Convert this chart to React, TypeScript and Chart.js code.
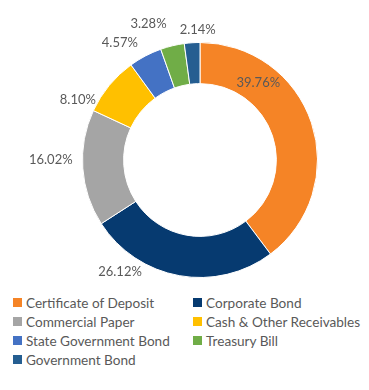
import React, { useEffect, useRef } from "react";
import { Chart, registerables } from "chart.js";

Chart.register(...registerables);

const categories = [
  "Certificate of Deposit",
  "Corporate Bond",
  "Commercial Paper",
  "Cash & Other Receivables",
  "State Government Bond",
  "Treasury Bill",
  "Government Bond",
];
const values = [39.76, 26.12, 16.02, 8.1, 4.57, 3.28, 2.14];
const valueLabels = ["39.76%", "26.12%", "16.02%", "8.10%", "4.57%", "3.28%", "2.14%"];
const colors = ["#F58426", "#063A70", "#A5A5A5", "#FFC000", "#4472C4", "#70AD47", "#255E91"];
// label placement: fraction along the slice, radius relative to outer radius
const labelT = [0.26, 0.77, 0.57, 0.05, 0.1, -0.1, 0.87];
const labelR = [0.82, 1.17, 1.27, 1.16, 1.21, 1.24, 1.11];

const FONT = "Lato, 'Open Sans', sans-serif";
const TEXT = "#595959";

const labelPlugin = {
  id: "sliceLabels",
  afterDatasetsDraw(chart: any) {
    const ctx = chart.ctx;
    const meta = chart.getDatasetMeta(0);
    ctx.save();
    ctx.font = `13px ${FONT}`;
    ctx.fillStyle = TEXT;
    ctx.textAlign = "center";
    ctx.textBaseline = "middle";
    meta.data.forEach((arc: any, i: number) => {
      const { x, y, startAngle, endAngle, outerRadius } = arc.getProps(
        ["x", "y", "startAngle", "endAngle", "outerRadius"],
        true
      );
      const a = startAngle + (endAngle - startAngle) * labelT[i];
      const r = outerRadius * labelR[i];
      ctx.fillText(valueLabels[i], x + Math.cos(a) * r, y + Math.sin(a) * r);
    });
    ctx.restore();
  },
};

export default function App() {
  const ref = useRef<HTMLCanvasElement>(null);
  useEffect(() => {
    if (!ref.current) return;
    const chart = new Chart(ref.current, {
      type: "doughnut",
      data: {
        labels: categories,
        datasets: [
          {
            data: values,
            backgroundColor: colors,
            borderColor: "#ffffff",
            borderWidth: 1,
          },
        ],
      },
      options: {
        animation: false,
        responsive: false,
        cutout: "65%",
        layout: { padding: { top: 42, bottom: 12, left: 40, right: 9 } },
        plugins: {
          legend: { display: false },
          tooltip: { enabled: false },
        },
      },
      plugins: [labelPlugin],
    });
    return () => chart.destroy();
  }, []);

  return (
    <div style={{ position: "absolute", left: 0, top: 0, width: 369, height: 390, background: "#fff" }}>
      <canvas ref={ref} width={369} height={290} style={{ display: "block", width: 369, height: 290 }} />
      <div
        style={{
          position: "absolute",
          left: 13,
          top: 293,
          width: 356,
          display: "grid",
          gridTemplateColumns: "180px 176px",
          rowGap: 0,
          fontFamily: FONT,
          fontSize: 13.6,
          color: TEXT,
        }}
      >
        {categories.map((c, i) => (
          <div key={c} style={{ display: "flex", alignItems: "center", height: 19, whiteSpace: "nowrap" }}>
            <span style={{ width: 9, height: 9, background: colors[i], marginRight: 4, flex: "none" }} />
            <span>{c}</span>
          </div>
        ))}
      </div>
    </div>
  );
}
